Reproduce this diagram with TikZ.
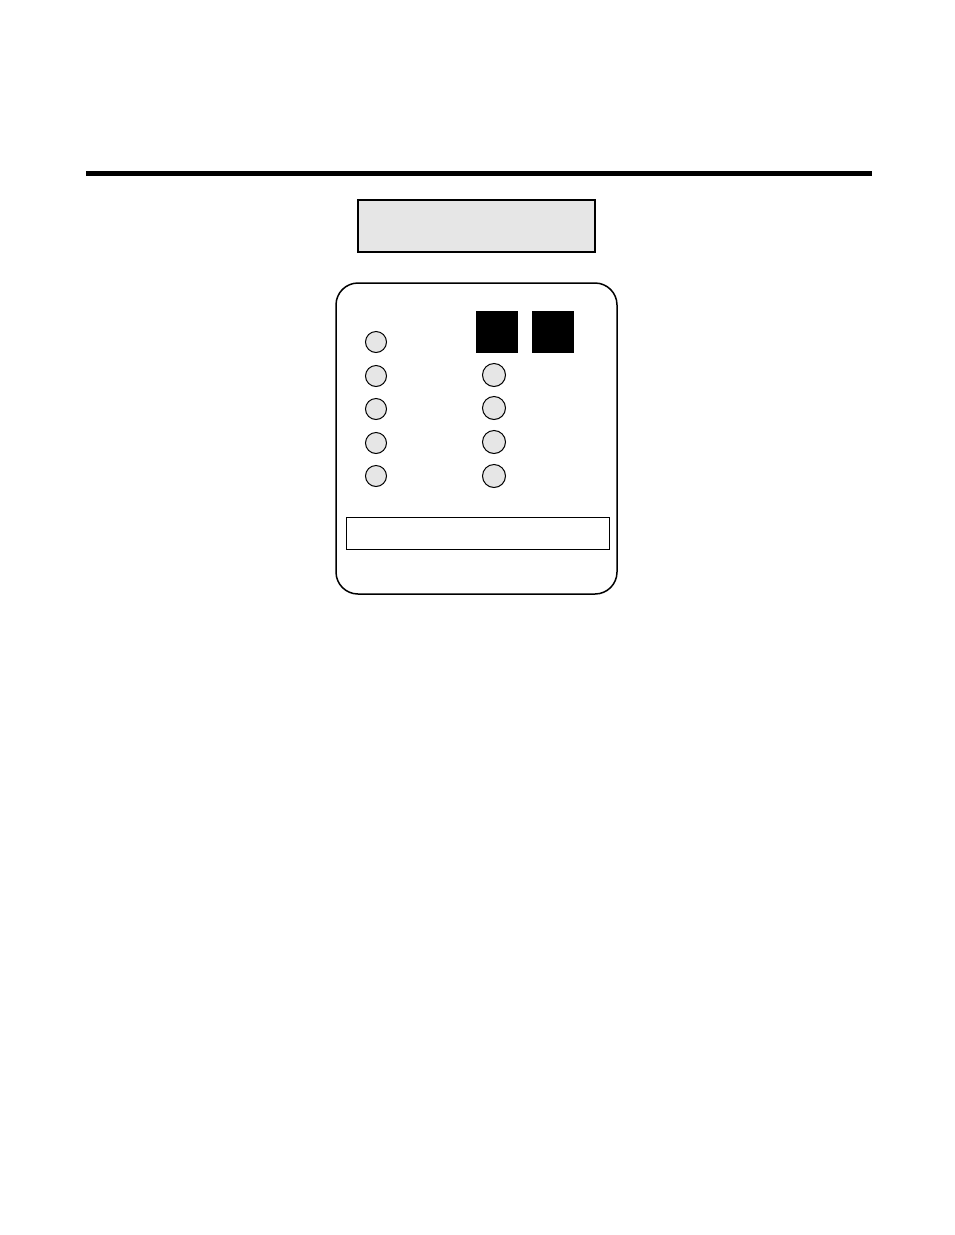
\documentclass[tikz,border=0pt]{standalone}
\begin{document}
\begin{tikzpicture}[x=1pt,y=-1pt,
  led/.style={circle,draw=black,line width=1pt,fill=ledgray,inner sep=0pt},
  blk/.style={fill=black,draw=none,inner sep=0pt,minimum width=42pt,minimum height=42pt}]
\definecolor{ledgray}{HTML}{E6E6E6}
\useasboundingbox (0,0) rectangle (954,1235);
\fill[white] (0,0) rectangle (954,1235);
% top rule
\coordinate (rl) at (86,173.5);
\coordinate (rr) at (872,173.5);
\draw[line width=5pt] (rl) -- (rr);
% title box
\node[draw=black,line width=2pt,fill=ledgray,minimum width=237pt,minimum height=52pt,inner sep=0pt] (title) at (476.5,226) {};
% device body
\node[draw=black,line width=1.5pt,rounded corners=22pt,minimum width=281pt,minimum height=311pt,inner sep=0pt] (body) at (476.5,438.5) {};
% black squares
\node[blk] (sq1) at (497,332) {};
\node[blk] (sq2) at (553,332) {};
% left LEDs
\foreach \i/\y in {1/342,2/376,3/409,4/443,5/476}{
  \node[led,minimum size=21pt] (l\i) at (376,\y) {};
}
% right LEDs
\foreach \i/\y in {1/375,2/408,3/442,4/476}{
  \node[led,minimum size=23pt] (r\i) at (494,\y) {};
}
% bottom display
\node[draw=black,line width=1pt,minimum width=263pt,minimum height=32pt,inner sep=0pt] (disp) at (477.5,533) {};
\end{tikzpicture}
\end{document}
